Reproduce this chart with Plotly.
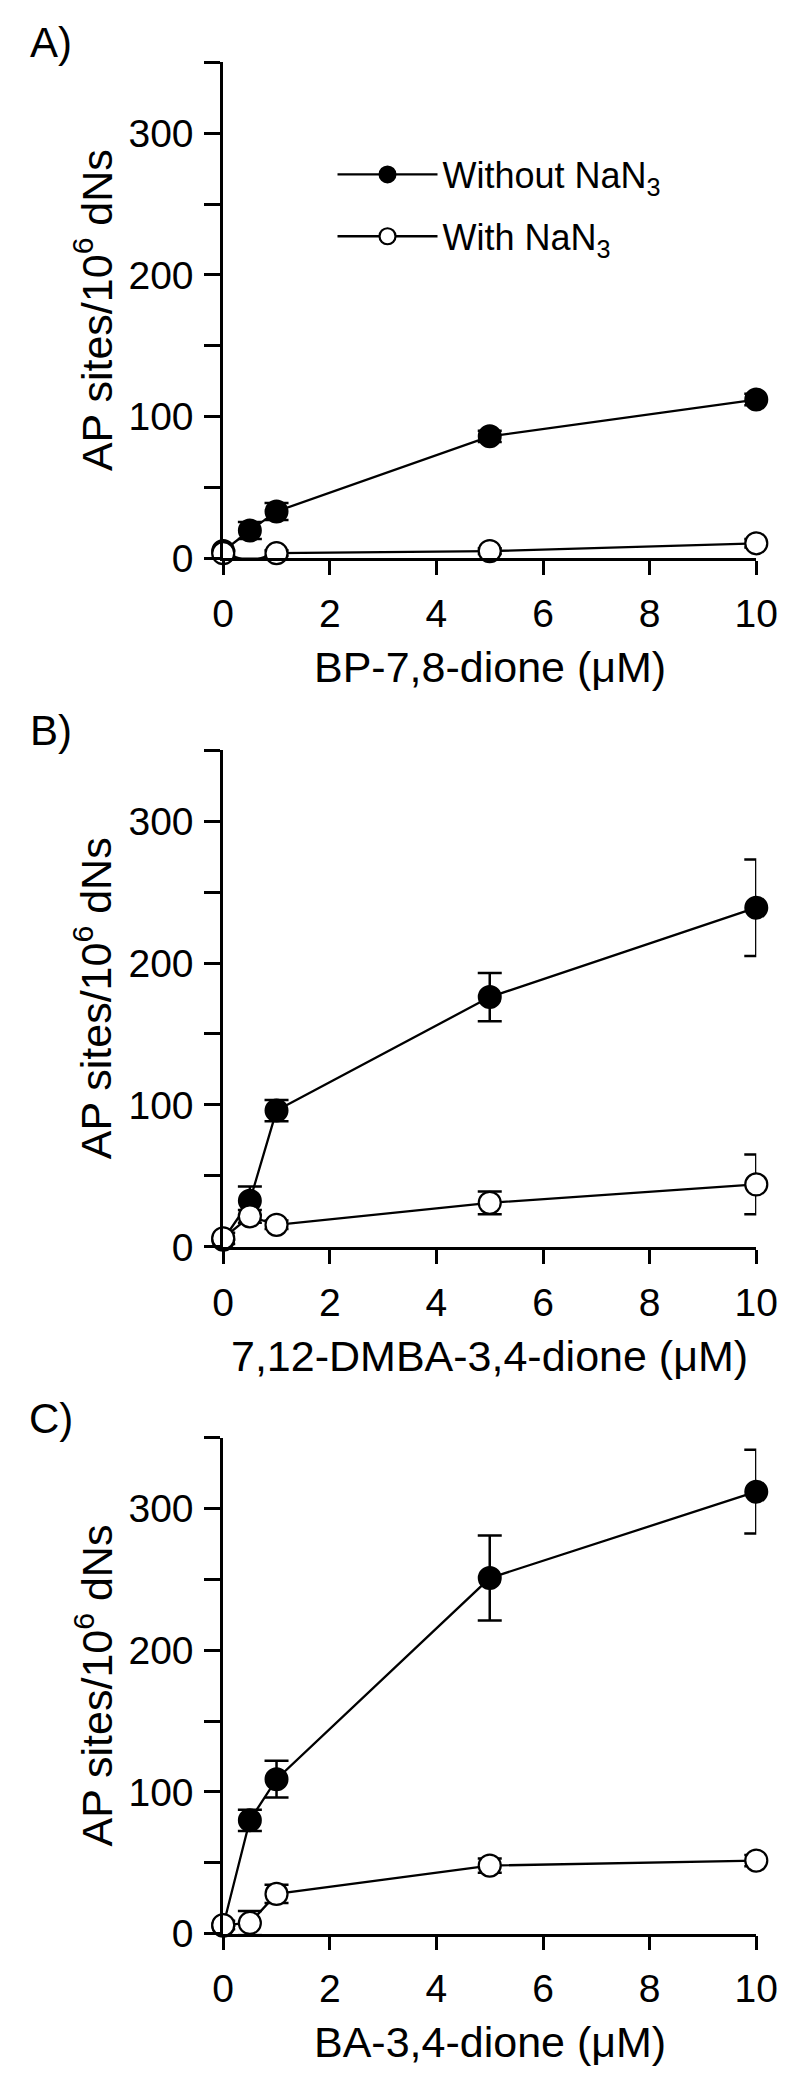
import plotly.graph_objects as go

# ---------------- data ----------------
conc = [0, 0.5, 1, 5, 10]

A_without = [5, 19.5, 33, 86, 112]
A_without_err = [0, 6, 6, 4, 4]
A_with = [3.5, -2.5, 3.5, 5, 10.5]
A_with_err = [2, 2, 2, 2, 3]

B_without = [5, 32.5, 96, 176, 239]
B_without_err = [0, 10, 7.5, 17, 34]
B_with = [6, 21.5, 15.5, 31, 44]
B_with_err = [4, 4.5, 3, 8, 21]

C_without = [5.5, 80, 109, 251, 312]
C_without_err = [0, 7.5, 13, 30, 29.5]
C_with = [6, 7.5, 28, 48, 51.5]
C_with_err = [3, 8.5, 6.5, 5, 4]

x_ticks = [0, 2, 4, 6, 8, 10]
y_ticks = [0, 50, 100, 150, 200, 250, 300, 350]
y_ticktext = ["0", "", "100", "", "200", "", "300", ""]

panel_labels = ["A)", "B)", "C)"]
x_titles = ["BP-7,8-dione (\u03bcM)", "7,12-DMBA-3,4-dione (\u03bcM)", "BA-3,4-dione (\u03bcM)"]
y_title = "AP sites/10<sup>6</sup> dNs"
series_names = ["Without NaN<sub>3</sub>", "With NaN<sub>3</sub>"]

panels = [
    (A_without, A_without_err, A_with, A_with_err),
    (B_without, B_without_err, B_with, B_with_err),
    (C_without, C_without_err, C_with, C_with_err),
]

# ---------------- layout geometry (pixels) ----------------
W, H = 800, 2095
x_left, x_right = 213, 769
tops = [55, 750, 1445]
bottoms = [556, 1252, 1946]

FONT = "Liberation Sans, Arial, sans-serif"

fig = go.Figure()

for i, (wo, woe, wi, wie) in enumerate(panels):
    xa = "x" if i == 0 else f"x{i+1}"
    ya = "y" if i == 0 else f"y{i+1}"
    fig.add_trace(go.Scatter(
        x=conc, y=wo, xaxis=xa, yaxis=ya, mode="lines+markers",
        name=series_names[0], showlegend=(i == 0), legendgroup="g1",
        line=dict(color="black", width=2.3),
        marker=dict(size=22, color="black", line=dict(color="black", width=2)),
        error_y=dict(type="data", array=woe, visible=True, color="black",
                     thickness=2.5, width=12),
        cliponaxis=False,
    ))
    fig.add_trace(go.Scatter(
        x=conc, y=wi, xaxis=xa, yaxis=ya, mode="lines+markers",
        name=series_names[1], showlegend=(i == 0), legendgroup="g2",
        line=dict(color="black", width=2.3),
        marker=dict(size=22, color="white", line=dict(color="black", width=2.2)),
        error_y=dict(type="data", array=wie, visible=True, color="black",
                     thickness=2.5, width=12),
        cliponaxis=False,
    ))

axis_common = dict(showgrid=False, zeroline=False, showline=True,
                   linecolor="black", linewidth=2.7, ticks="outside",
                   tickcolor="black", tickwidth=2.7,
                   tickfont=dict(family=FONT, size=39, color="black"))

layout = dict(width=W, height=H, margin=dict(l=0, r=0, t=0, b=0),
              paper_bgcolor="white", plot_bgcolor="white",
              font=dict(family=FONT, color="black"))

annotations = []
for i in range(3):
    xk = "xaxis" if i == 0 else f"xaxis{i+1}"
    yk = "yaxis" if i == 0 else f"yaxis{i+1}"
    ya = "y" if i == 0 else f"y{i+1}"
    xa = "x" if i == 0 else f"x{i+1}"
    layout[xk] = dict(axis_common, domain=[x_left / W, x_right / W], range=[0, 10],
                      tickvals=x_ticks, ticklen=14, anchor=ya,
                      ticklabelstandoff=5)
    layout[yk] = dict(axis_common, domain=[1 - bottoms[i] / H, 1 - tops[i] / H],
                      range=[0, 350], tickvals=y_ticks, ticktext=y_ticktext,
                      ticklen=16, anchor=xa, ticklabelstandoff=3)
    # panel label
    annotations.append(dict(text=panel_labels[i], x=33 / W, y=1 - (tops[i] - 20) / H,
                            xref="paper", yref="paper", xanchor="center", yanchor="middle",
                            showarrow=False, font=dict(family=FONT, size=42, color="black")))
    # x title
    annotations.append(dict(text=x_titles[i], x=(x_left + x_right) / 2 / W,
                            y=1 - (bottoms[i] + 110) / H,
                            xref="paper", yref="paper", xanchor="center", yanchor="middle",
                            showarrow=False, font=dict(family=FONT, size=43, color="black")))
    # y title
    annotations.append(dict(text=y_title, x=78 / W, y=1 - (tops[i] + bottoms[i]) / 2 / H,
                            xref="paper", yref="paper", xanchor="center", yanchor="middle",
                            textangle=-90, showarrow=False,
                            font=dict(family=FONT, size=43, color="black")))

layout["annotations"] = annotations
layout["legend"] = dict(x=327 / W, y=1 - 138 / H, xanchor="left", yanchor="top",
                        bgcolor="rgba(0,0,0,0)", itemwidth=100,
                        font=dict(family=FONT, size=36, color="black"),
                        tracegroupgap=12, traceorder="grouped")

fig.update_layout(**layout)
fig.write_html("out.html")
